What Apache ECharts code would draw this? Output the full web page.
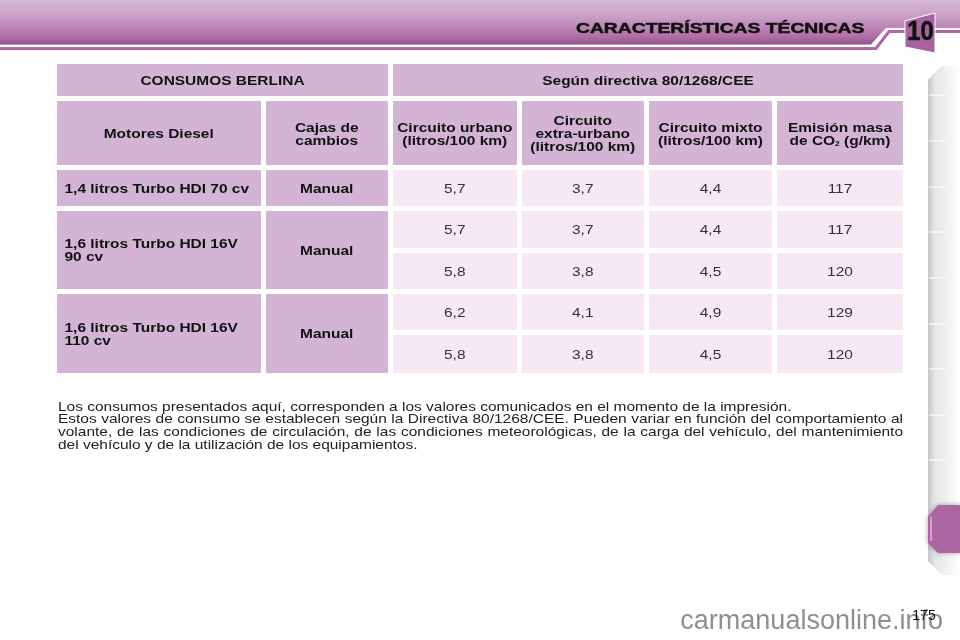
<!DOCTYPE html>
<html>
<head>
<meta charset="utf-8">
<script src="https://cdn.jsdelivr.net/npm/echarts@6/dist/echarts.min.js"></script>
<style>
html,body{margin:0;padding:0;background:#fff;}
#main{width:960px;height:640px;}
</style>
</head>
<body>
<div id="main"></div>
<script>
// table content
const titleLeft = 'CONSUMOS BERLINA';
const titleRight = 'Según directiva 80/1268/CEE';
const colHeaders = ['Motores Diesel', 'Cajas de\ncambios', 'Circuito urbano\n(litros/100 km)',
    'Circuito\nextra-urbano\n(litros/100 km)', 'Circuito mixto\n(litros/100 km)', 'Emisión masa\nde CO{sub|2} (g/km)'];
const engines = ['1,4 litros Turbo HDI 70 cv', '1,6 litros Turbo HDI 16V\n90 cv', '1,6 litros Turbo HDI 16V\n110 cv'];
const engineRows = [1, 2, 2];
const gearbox = 'Manual';
const urban = [5.7, 5.7, 5.8, 6.2, 5.8];
const extraUrban = [3.7, 3.7, 3.8, 4.1, 3.8];
const mixed = [4.4, 4.4, 4.5, 4.9, 4.5];
const co2 = [117, 117, 120, 129, 120];

const noteLines = [
    'Los consumos presentados aquí, corresponden a los valores comunicados en el momento de la impresión.',
    'Estos valores de consumo se establecen según la Directiva 80/1268/CEE. Pueden variar en función del comportamiento al',
    'volante, de las condiciones de circulación, de las condiciones meteorológicas, de la carga del vehículo, del mantenimiento',
    'del vehículo y de la utilización de los equipamientos.'
];
const justified = [false, true, true, false];
const pageTitle = 'CARACTERÍSTICAS TÉCNICAS';
const chapter = '10';
const pageNumber = '175';
const watermark = 'carmanualsonline.info';

// layout
const colSizes = [208.5, 127.5, 128.5, 127.5, 128, 131];
const rowSizes = [37, 69, 41, 41.5, 41, 41, 43.5];
const tabTicks = [95, 141, 187, 232, 278, 324, 369, 415, 460];

const dark = '#d3b4d5';
const light = '#f6e9f3';
const FONT = '"Liberation Sans", Arial, sans-serif';
const stretch = 1.19; // the manual's type is set wide
const fmt = v => String(v).replace('.', ',');

// every table cell: fill goes to the matrix, text to the custom series
function buildCells() {
    let cells = [];
    const add = (c0, c1, r0, r1, text, kind) => cells.push({c: [c0, c1], r: [r0, r1], text: text, kind: kind});
    add(0, 1, 0, 0, titleLeft, 'head');
    add(2, 5, 0, 0, titleRight, 'head');
    colHeaders.forEach((h, i) => add(i, i, 1, 1, h, 'head'));
    let row = 2;
    engines.forEach((name, i) => {
        let last = row + engineRows[i] - 1;
        add(0, 0, row, last, name, 'engine');
        add(1, 1, row, last, gearbox, 'head');
        row = last + 1;
    });
    [urban, extraUrban, mixed, co2].forEach((list, c) => {
        list.forEach((v, r) => add(c + 2, c + 2, r + 2, r + 2, fmt(v), 'value'));
    });
    return cells;
}
const cells = buildCells();

function bodyData() {
    return cells.map(cell => ({
        coord: [cell.c[0] === cell.c[1] ? cell.c[0] : cell.c, cell.r[0] === cell.r[1] ? cell.r[0] : cell.r],
        mergeCells: cell.c[0] !== cell.c[1] || cell.r[0] !== cell.r[1],
        itemStyle: {color: cell.kind === 'value' ? light : dark}
    }));
}

function renderCellText(params, api) {
    let cell = cells[params.dataIndex];
    let layout = api.layout([cell.c, cell.r]);
    let rect = layout.rect;
    let isValue = cell.kind === 'value';
    let isEngine = cell.kind === 'engine';
    return {
        type: 'text',
        x: isEngine ? rect.x + 10 : rect.x + rect.width / 2,
        y: rect.y + rect.height / 2 + 1.5,
        scaleX: stretch,
        style: {
            text: cell.text,
            fontFamily: FONT,
            fontWeight: isValue ? 'normal' : 'bold',
            fontSize: 13,
            lineHeight: 13,
            fill: isValue ? '#333' : '#111',
            textAlign: isEngine ? 'left' : 'center',
            textVerticalAlign: 'middle',
            rich: {sub: {fontSize: 7, fontWeight: 'bold', fontFamily: FONT, fill: '#111', lineHeight: 13, padding: [6, 0, 0, 0]}}
        }
    };
}

// decoration and free text
const measure = document.createElement('canvas').getContext('2d');
const noteFont = '13px ' + FONT;

function noteText() {
    let out = [];
    measure.font = noteFont;
    noteLines.forEach((line, i) => {
        let y = 407 + i * 12.9;
        if (!justified[i]) {
            out.push({type: 'text', x: 58, y: y, scaleX: stretch, style: {text: line, font: noteFont, fill: '#222', textVerticalAlign: 'middle'}});
            return;
        }
        let words = line.split(' ');
        let total = words.reduce((s, w) => s + measure.measureText(w).width * stretch, 0);
        let gap = (903 - 58 - total) / (words.length - 1);
        let x = 58;
        words.forEach(w => {
            out.push({type: 'text', x: x, y: y, scaleX: stretch, style: {text: w, font: noteFont, fill: '#222', textVerticalAlign: 'middle'}});
            x += measure.measureText(w).width * stretch + gap;
        });
    });
    return out;
}

function chrome() {
    const bandFill = new echarts.graphic.LinearGradient(0, 0, 0, 1, [
        {offset: 0, color: '#d6b9d6'}, {offset: 0.4, color: '#c89cc4'},
        {offset: 0.82, color: '#b06fa7'}, {offset: 0.95, color: '#9a5c91'}, {offset: 1, color: '#85507c'}
    ]);
    const stripFill = new echarts.graphic.LinearGradient(0, 0, 1, 0, [
        {offset: 0, color: '#c4c4c4'}, {offset: 0.2, color: '#e4e4e4'}, {offset: 1, color: '#ffffff'}
    ]);
    let els = [
        {type: 'polygon', shape: {points: [[0, 0], [960, 0], [960, 28], [886, 28], [871, 44.5], [0, 44.5]]}, style: {fill: bandFill}},
        {type: 'polyline', shape: {points: [[0, 48.5], [876, 48.5], [889, 31.5], [960, 31.5]]}, style: {fill: 'none', stroke: '#b067a6', lineWidth: 3}},
        {type: 'polygon', z: 3, shape: {points: [[905, 21], [935, 13], [935, 53], [905, 47]]}, style: {fill: '#a8629d', stroke: '#fff', lineWidth: 1}},
        {type: 'text', z: 4, x: 920.5, y: 33, scaleX: 0.88, style: {text: chapter, font: 'bold 27px ' + FONT, fill: '#111', stroke: '#111', lineWidth: 0.6, textAlign: 'center', textVerticalAlign: 'middle'}},
        {type: 'text', x: 576, y: 29, scaleX: 1.245, style: {text: pageTitle, font: 'bold 15.5px ' + FONT, fill: '#111', stroke: '#111', lineWidth: 0.5, textVerticalAlign: 'middle', shadowBlur: 3, shadowColor: 'rgba(255,255,255,0.8)'}},
        {type: 'polygon', shape: {points: [[928, 80], [941, 66], [960, 66], [960, 575], [942, 575], [928, 561]]}, style: {fill: stripFill}},
        {type: 'polygon', z: 3, shape: {points: [[928, 517], [938, 505], [960, 505], [960, 553], [938, 553], [928, 543]]}, style: {fill: '#ad66a4', shadowBlur: 5, shadowColor: 'rgba(0,0,0,0.35)'}},
        {type: 'line', z: 4, shape: {x1: 931, y1: 517, x2: 931, y2: 541}, style: {stroke: '#e0b5da', lineWidth: 1.5}},
        {type: 'text', z: 2, x: 943, y: 622, style: {text: watermark, font: '27px ' + FONT, fill: '#8f8f8f', textAlign: 'right', textVerticalAlign: 'middle'}},
        {type: 'text', z: 5, x: 924, y: 616, style: {text: pageNumber, font: '14px ' + FONT, fill: '#111', textAlign: 'center', textVerticalAlign: 'middle'}}
    ];
    tabTicks.forEach(y => {
        els.push({type: 'line', z: 2, shape: {x1: 929, y1: y, x2: 945, y2: y}, style: {stroke: '#fff', lineWidth: 1}});
    });
    return els.concat(noteText());
}

let myChart = echarts.init(document.getElementById('main'));
let option = {
    animation: false,
    backgroundColor: '#fff',
    matrix: {
        left: 54.5, top: 61.5, width: 851, height: 314,
        x: {show: false, data: colSizes.map((s, i) => ({value: 'c' + i, size: s}))},
        y: {show: false, data: rowSizes.map((s, i) => ({value: 'r' + i, size: s}))},
        body: {
            itemStyle: {borderColor: '#fff', borderWidth: 5, color: light},
            data: bodyData()
        },
        backgroundStyle: {color: 'none', borderWidth: 0}
    },
    series: [{
        type: 'custom',
        coordinateSystem: 'matrix',
        silent: true,
        z: 5,
        data: cells.map(cell => [cell.c[0], cell.r[0]]),
        renderItem: renderCellText
    }],
    graphic: {elements: chrome()}
};
myChart.setOption(option);
</script>
</body>
</html>
